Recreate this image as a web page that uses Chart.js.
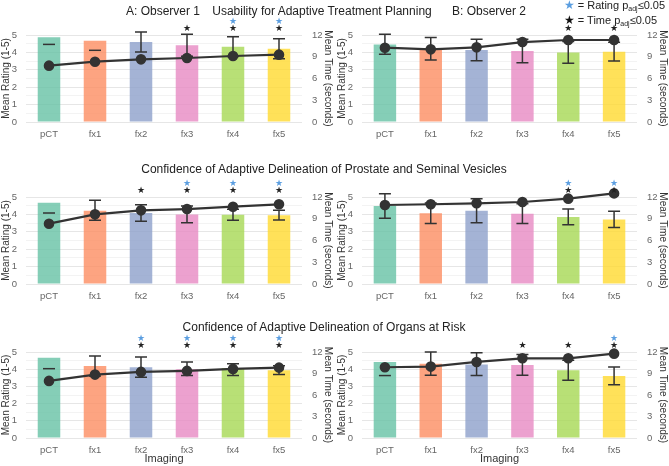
<!DOCTYPE html>
<html>
<head>
<meta charset="utf-8">
<script src="https://cdn.jsdelivr.net/npm/chart.js@4.4.1/dist/chart.umd.min.js"></script>
<style>
  body { margin: 0; background: #fff; font-family: "Liberation Sans", Arial, sans-serif; }
  #wrap { position: relative; width: 669px; height: 466px; overflow: hidden; }
  canvas { position: absolute; }
  .t { position: absolute; transform: translate(-50%, -50%); white-space: nowrap; color: #222; font-size: 12px; z-index: 2; }
  #legend { position: absolute; left: 564px; top: 0px; font-size: 11px; color: #222; line-height: 11.5px; z-index: 2; }
  #legend div { white-space: nowrap; }
  #legend sub { font-size: 7px; vertical-align: -2px; }
  .bs { color: #5b9ee0; font-family: "DejaVu Sans"; font-size: 12px; }
  .ks { color: #111; font-family: "DejaVu Sans"; font-size: 12px; }
</style>
</head>
<body>
<div id="wrap">
  <canvas id="a1" width="334" height="135" style="left:0;top:10px"></canvas>
  <canvas id="b1" width="333" height="135" style="left:336px;top:10px"></canvas>
  <canvas id="a2" width="334" height="135" style="left:0;top:172px"></canvas>
  <canvas id="b2" width="333" height="135" style="left:336px;top:172px"></canvas>
  <canvas id="a3" width="334" height="139" style="left:0;top:327px"></canvas>
  <canvas id="b3" width="333" height="139" style="left:336px;top:327px"></canvas>

  <div class="t" style="left:163px;top:11px">A: Observer 1</div>
  <div class="t" style="left:322px;top:11px">Usability for Adaptive Treatment Planning</div>
  <div class="t" style="left:489px;top:11px">B: Observer 2</div>
  <div class="t" style="left:324px;top:169px">Confidence of Adaptive Delineation of Prostate and Seminal Vesicles</div>
  <div class="t" style="left:324px;top:327px">Confidence of Adaptive Delineation of Organs at Risk</div>

  <div id="legend">
    <div><span class="bs">★</span> = Rating&nbsp;p<sub>adj</sub>≤0.05</div>
    <div><span class="ks">★</span> = Time&nbsp;p<sub>adj</sub>≤0.05</div>
  </div>
</div>

<script>
const categories = ['pCT', 'fx1', 'fx2', 'fx3', 'fx4', 'fx5'];
const barColors = ['rgba(102,194,165,0.8)', 'rgba(252,141,98,0.8)', 'rgba(141,160,203,0.8)',
                   'rgba(231,138,195,0.8)', 'rgba(166,216,84,0.8)', 'rgba(255,217,47,0.8)'];

// Usability for adaptive treatment planning
const usabilityRating1 = [4.87, 4.67, 4.60, 4.41, 4.33, 4.21];
const usabilityTime1   = [7.77, 8.32, 8.64, 8.83, 9.10, 9.29];
const usabilityLo1     = [4.46, 4.12, 4.02, 3.78, 3.76, 3.64];
const usabilityHi1     = [null, null, 5.17, 5.04, 4.90, 4.79];
const usabilityStarR1  = [0, 0, 0, 0, 1, 1];
const usabilityStarT1  = [0, 0, 0, 1, 1, 1];

const usabilityRating2 = [4.46, 4.22, 4.14, 4.08, 4.00, 4.04];
const usabilityTime2   = [10.25, 10.02, 10.30, 11.03, 11.31, 11.31];
const usabilityLo2     = [3.89, 3.56, 3.52, 3.41, 3.37, 3.50];
const usabilityHi2     = [5.04, 4.85, 4.75, 4.75, 4.63, 4.58];
const usabilityStarR2  = [0, 0, 0, 0, 0, 0];
const usabilityStarT2  = [0, 0, 0, 0, 1, 1];

// Prostate and seminal vesicles
const prostateRating1 = [4.67, 4.21, 4.08, 4.00, 3.98, 3.95];
const prostateTime1   = [8.32, 9.61, 10.16, 10.34, 10.66, 10.99];
const prostateLo1     = [4.08, 3.66, 3.60, 3.52, 3.66, 3.68];
const prostateHi1     = [null, 4.81, 4.56, 4.48, 4.30, 4.24];
const prostateStarR1  = [0, 0, 0, 1, 1, 1];
const prostateStarT1  = [0, 0, 1, 1, 1, 1];

const prostateRating2 = [4.48, 4.06, 4.21, 4.04, 3.85, 3.70];
const prostateTime2   = [10.90, 11.00, 11.13, 11.31, 11.77, 12.50];
const prostateLo2     = [3.78, 3.47, 3.52, 3.47, 3.41, 3.24];
const prostateHi2     = [5.19, 4.65, 4.90, 4.61, 4.31, 4.18];
const prostateStarR2  = [0, 0, 0, 0, 1, 1];
const prostateStarT2  = [0, 0, 0, 0, 1, 1];

// Organs at risk
const oarRating1 = [4.67, 4.19, 4.11, 4.00, 4.07, 3.94];
const oarTime1   = [7.97, 8.85, 9.22, 9.36, 9.64, 9.82];
const oarLo1     = [4.03, 3.61, 3.53, 3.63, 3.63, 3.69];
const oarHi1     = [null, 4.77, 4.71, 4.42, 4.32, 4.20];
const oarStarR1  = [0, 0, 1, 1, 1, 1];
const oarStarT1  = [0, 0, 1, 1, 1, 1];

const oarRating2 = [4.42, 4.32, 4.27, 4.25, 3.94, 3.60];
const oarTime2   = [9.87, 9.96, 10.61, 11.12, 11.12, 11.77];
const oarLo2     = [3.63, 3.65, 3.63, 3.65, 3.36, 3.10];
const oarHi2     = [null, 5.00, 4.96, 4.85, 4.52, 4.13];
const oarStarR2  = [0, 0, 0, 0, 0, 1];
const oarStarT2  = [0, 0, 0, 1, 1, 1];

const FONT = '"Liberation Sans", Arial, sans-serif';

// error bars on the rating bars + significance stars
const extras = {
  id: 'extras',
  afterDatasetDraw(chart, args, opts) {
    if (args.index !== 0) return;
    const ctx = chart.ctx;
    const y = chart.scales.y;
    const meta = chart.getDatasetMeta(0);
    ctx.save();
    ctx.strokeStyle = '#333';
    ctx.lineWidth = 1.5;
    meta.data.forEach((bar, i) => {
      const x = bar.x;
      const lo = y.getPixelForValue(opts.lo[i]);
      ctx.beginPath();
      ctx.moveTo(x - 6, lo); ctx.lineTo(x + 6, lo);
      if (opts.hi[i] != null) {
        const hi = y.getPixelForValue(opts.hi[i]);
        ctx.moveTo(x, lo); ctx.lineTo(x, hi);
        ctx.moveTo(x - 6, hi); ctx.lineTo(x + 6, hi);
      }
      ctx.stroke();
    });
    ctx.restore();
  },
  afterDraw(chart, args, opts) {
    const ctx = chart.ctx;
    const top = chart.chartArea.top;
    const meta = chart.getDatasetMeta(0);
    ctx.save();
    ctx.font = '9px "DejaVu Sans"';
    ctx.textAlign = 'center';
    ctx.textBaseline = 'middle';
    meta.data.forEach((bar, i) => {
      if (opts.starT[i]) { ctx.fillStyle = '#222'; ctx.fillText('★', bar.x, top - 6.5); }
      if (opts.starR[i]) { ctx.fillStyle = '#5b9ee0'; ctx.fillText('★', bar.x, top - 13.5); }
    });
    ctx.restore();
  }
};

function makePanel(id, rating, time, lo, hi, starR, starT, showX) {
  new Chart(document.getElementById(id), {
    data: {
      labels: categories,
      datasets: [
        { type: 'bar', data: rating, yAxisID: 'y', order: 2,
          backgroundColor: barColors, borderWidth: 0,
          barPercentage: 0.49, categoryPercentage: 1 },
        { type: 'line', data: time, yAxisID: 'y1', order: 1, clip: false,
          borderColor: '#333', borderWidth: 2.2, pointRadius: 4.2,
          pointBackgroundColor: '#333', pointBorderColor: '#333', tension: 0 }
      ]
    },
    options: {
      responsive: false,
      animation: false,
      layout: { padding: { top: 25, left: 0, right: 0, bottom: 0 } },
      plugins: {
        legend: { display: false },
        tooltip: { enabled: false },
        extras: { lo: lo, hi: hi, starR: starR, starT: starT }
      },
      scales: {
        x: {
          grid: { display: false, drawTicks: false, tickLength: 0 },
          border: { display: false },
          ticks: { color: '#666', font: { family: FONT, size: 9.5 }, padding: 7 },
          title: { display: showX, text: 'Imaging', color: '#333', font: { family: FONT, size: 11 }, padding: 0 },
          afterFit: s => { s.height = showX ? 28 : 23; }
        },
        y: {
          position: 'left', min: 0, max: 5,
          grid: { drawTicks: false, tickLength: 0,
                  color: c => (c.tick && c.tick.value % 1 === 0) ? '#e6e6e6' : '#f3f3f3' },
          border: { display: false },
          ticks: { stepSize: 0.5, autoSkip: false, color: '#666', padding: 9,
                   font: { family: FONT, size: 9.5 },
                   callback: v => Number.isInteger(v) ? v : '' },
          title: { display: true, text: 'Mean Rating (1-5)', color: '#333', font: { family: FONT, size: 10 }, padding: 0 },
          afterFit: s => { s.width = 26; }
        },
        y1: {
          position: 'right', min: 0, max: 12,
          grid: { display: false, drawTicks: false },
          border: { display: false },
          ticks: { stepSize: 3, autoSkip: false, color: '#666', padding: 10, font: { family: FONT, size: 9.5 } },
          title: { display: true, text: 'Mean Time (seconds)', color: '#333', font: { family: FONT, size: 10 }, padding: 0 },
          afterFit: s => { s.width = 32; }
        }
      }
    },
    plugins: [extras]
  });
}

makePanel('a1', usabilityRating1, usabilityTime1, usabilityLo1, usabilityHi1, usabilityStarR1, usabilityStarT1, false);
makePanel('b1', usabilityRating2, usabilityTime2, usabilityLo2, usabilityHi2, usabilityStarR2, usabilityStarT2, false);
makePanel('a2', prostateRating1, prostateTime1, prostateLo1, prostateHi1, prostateStarR1, prostateStarT1, false);
makePanel('b2', prostateRating2, prostateTime2, prostateLo2, prostateHi2, prostateStarR2, prostateStarT2, false);
makePanel('a3', oarRating1, oarTime1, oarLo1, oarHi1, oarStarR1, oarStarT1, true);
makePanel('b3', oarRating2, oarTime2, oarLo2, oarHi2, oarStarR2, oarStarT2, true);
</script>
</body>
</html>
